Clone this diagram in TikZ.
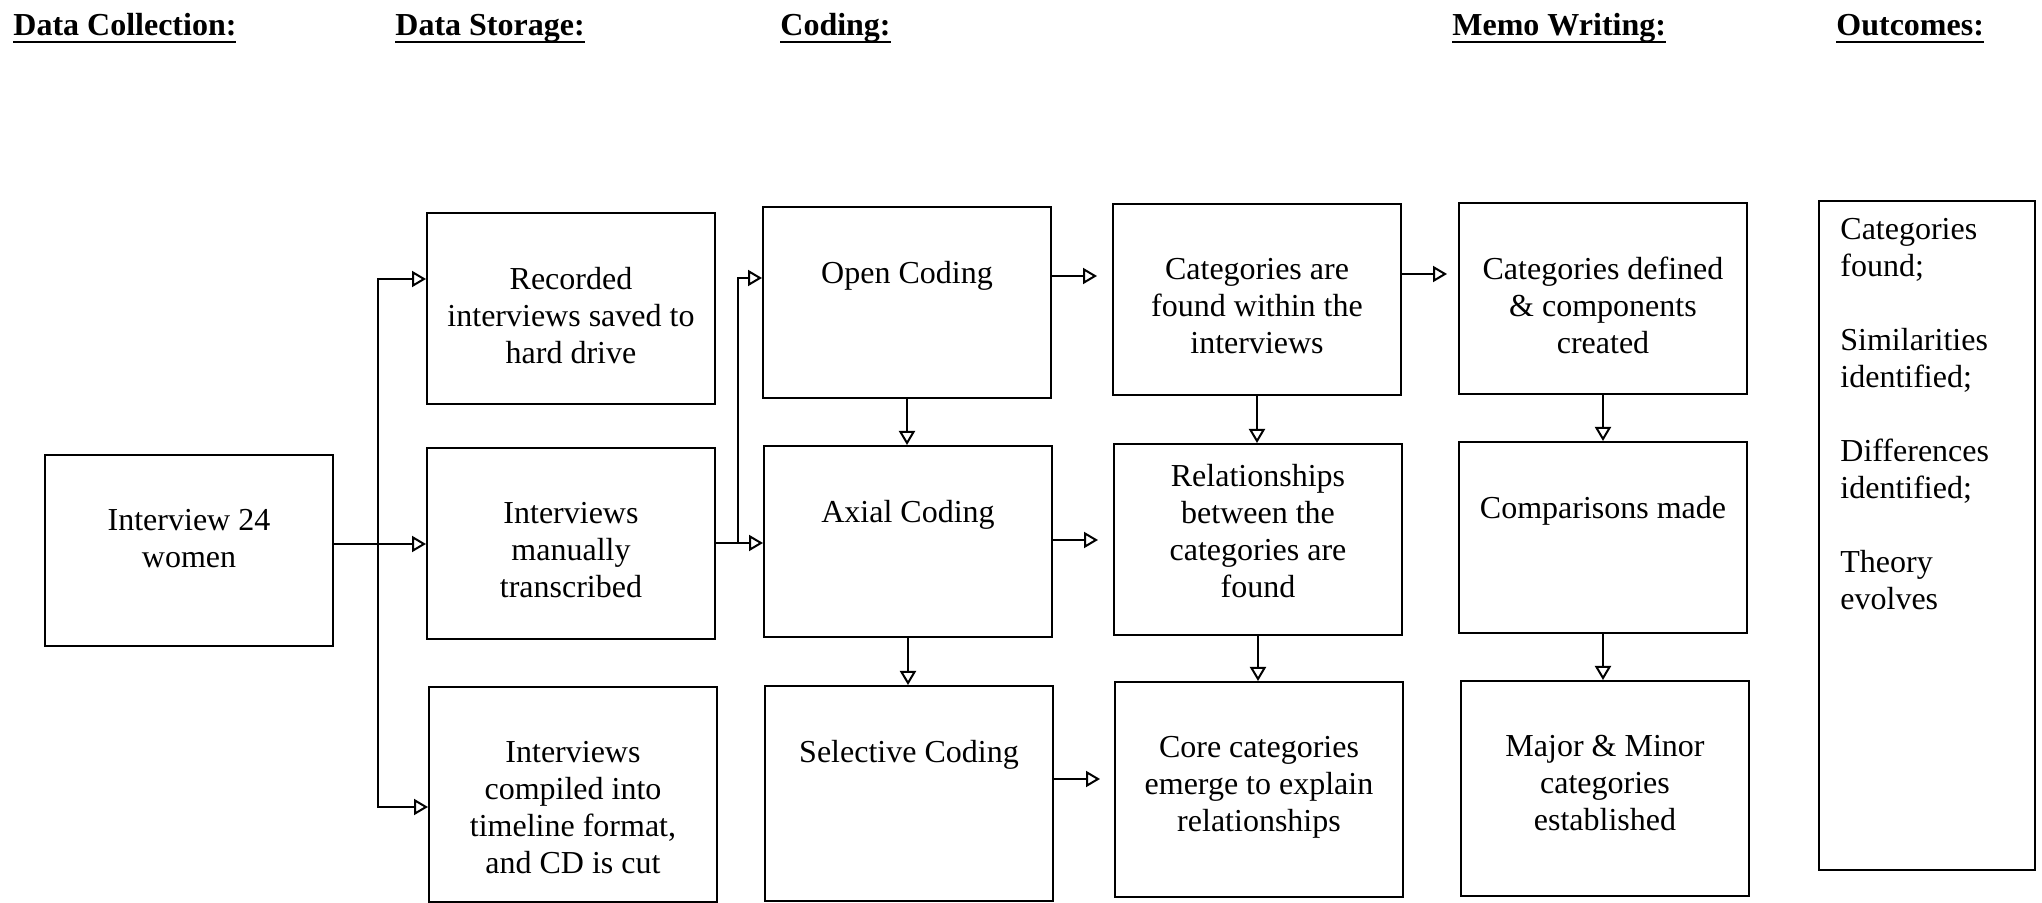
\documentclass[tikz,border=0pt]{standalone}
\usepackage{fontspec}
\setmainfont{Liberation Serif}
\usepackage{tikz}
\usetikzlibrary{arrows.meta,positioning}
\newcommand{\boxfont}{\fontsize{16}{18.5}\selectfont}
\newcommand{\headfont}{\fontsize{16}{18.5}\selectfont\bfseries}
\newcommand{\headline}[1]{\sbox0{#1}\rlap{\rule[-3.6pt]{\wd0}{1.2pt}}\usebox0}
\tikzset
{
    stagebox/.style = {draw=black, line width=1pt, minimum width=144pt,
                          minimum height=95.5pt, anchor=north west, inner sep=0pt},
    tallbox/.style = {stagebox, minimum height=107.5pt},
    boxtext/.style = {align=center, inner sep=0pt, font=\boxfont},
    heading/.style = {anchor=base west, inner sep=0pt, font=\headfont},
    flow/.style = {draw=black, line width=1pt,
                          -{Triangle[open, length=7pt, width=8pt]}}
}

\begin{document}
\begin{tikzpicture}[
        % one unit = one pixel of the 2042 x 903 layout
        x=0.5pt, y=-0.5pt
      ]
    \useasboundingbox (0,0) rectangle (2042,903);

    % column headings
    \node[heading] (hcollect) at (13,36)   {\headline{Data Collection:}};
    \node[heading] (hstore)   at (395,36)  {\headline{Data Storage:}};
    \node[heading] (hcode)    at (780,36)  {\headline{Coding:}};
    \node[heading] (hmemo)    at (1452,36) {\headline{Memo Writing:}};
    \node[heading] (hout)     at (1836,36) {\headline{Outcomes:}};

    % boxes
    \node[stagebox] (interview) at (44,454)   {};
    \node[stagebox] (recorded)  at (426,212)  {};
    \node[stagebox] (manual)    at (426,447)  {};
    \node[tallbox]  (compiled)  at (428,686)  {};
    \node[stagebox] (open)      at (762,206)  {};
    \node[stagebox] (axial)     at (763,445)  {};
    \node[tallbox]  (selective) at (764,685)  {};
    \node[stagebox] (catfound)  at (1112,203) {};
    \node[stagebox] (relation)  at (1113,443) {};
    \node[tallbox]  (core)      at (1114,681) {};
    \node[stagebox] (catdef)    at (1458,202) {};
    \node[stagebox] (compare)   at (1458,441) {};
    \node[tallbox]  (major)     at (1460,680) {};
    \node[stagebox, minimum width=108pt, minimum height=334.5pt] (outcomes) at (1818,200) {};

    % box texts
    \node[boxtext, below=27.5pt of interview.north] {Interview 24\\women};
    \node[boxtext, below=27.5pt of recorded.north]  {Recorded\\interviews saved to\\hard drive};
    \node[boxtext, below=27.5pt of manual.north]    {Interviews\\manually\\transcribed};
    \node[boxtext, below=27.5pt of compiled.north]  {Interviews\\compiled into\\timeline format,\\and CD is cut};
    \node[boxtext, below=27.5pt of open.north]      {Open Coding};
    \node[boxtext, below=27.5pt of axial.north]     {Axial Coding};
    \node[boxtext, below=27.5pt of selective.north] {Selective Coding};
    \node[boxtext, below=27.5pt of catfound.north]  {Categories are\\found within the\\interviews};
    \node[boxtext, below=10.5pt of relation.north]  {Relationships\\between the\\categories are\\found};
    \node[boxtext, below=27.5pt of core.north]      {Core categories\\emerge to explain\\relationships};
    \node[boxtext, below=27.5pt of catdef.north]    {Categories defined\\\& components\\created};
    \node[boxtext, below=27.5pt of compare.north]   {Comparisons made};
    \node[boxtext, below=27.5pt of major.north]     {Major \& Minor\\categories\\established};
    \node[boxtext, align=left, below right=9pt and 11pt of outcomes.north west]
        {Categories\\found;\\[18.5pt]Similarities\\identified;\\[18.5pt]Differences\\identified;\\[18.5pt]Theory\\evolves};

    % branch points
    \coordinate (split)  at (378,544);
    \coordinate (splitT) at (378,279);
    \coordinate (splitB) at (378,807);
    \coordinate (join)   at (738,543);
    \coordinate (joinT)  at (738,278);

    % storage
    \draw[flow] (interview.east |- split) -- (manual.west |- split);
    \draw[flow] (split) |- (recorded.west |- splitT);
    \draw[flow] (split) |- (compiled.west |- splitB);

    % coding
    \draw[flow] (manual.east |- join) -- (axial.west |- join);
    \draw[flow] (join) |- (open.west |- joinT);
    \draw[flow] (open.south) -- (open.south |- axial.north);
    \draw[flow] (axial.south) -- (axial.south |- selective.north);

    % categories
    \draw[flow, shorten >=7.5pt] (open.east |- 0,276) -- (catfound.west |- 0,276);
    \draw[flow, shorten >=7.5pt] (axial.east |- 0,540) -- (relation.west |- 0,540);
    \draw[flow, shorten >=7pt] (selective.east |- 0,779) -- (core.west |- 0,779);
    \draw[flow] (catfound.south) -- (catfound.south |- relation.north);
    \draw[flow] (relation.south) -- (relation.south |- core.north);

    % memos
    \draw[flow, shorten >=5.5pt] (catfound.east |- 0,274) -- (catdef.west |- 0,274);
    \draw[flow] (catdef.south) -- (catdef.south |- compare.north);
    \draw[flow] (compare.south) -- (compare.south |- major.north);
\end{tikzpicture}
\end{document}
